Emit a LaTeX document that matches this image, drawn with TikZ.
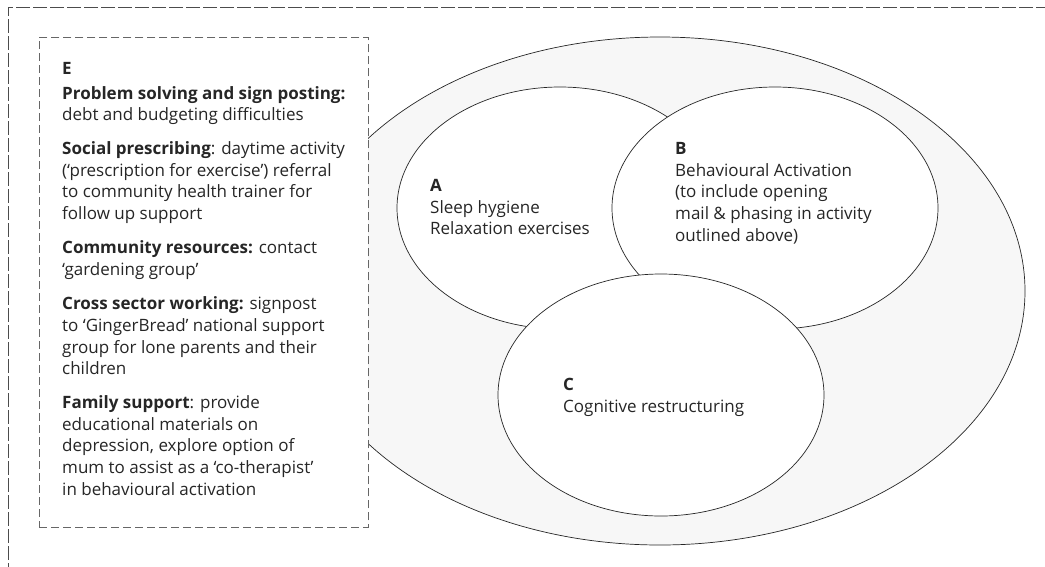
\documentclass[tikz,border=0pt]{standalone}
\usepackage{fontspec}
\setmainfont{Open Sans}
\usetikzlibrary{shapes.geometric}
\begin{document}
\begin{tikzpicture}[x=1pt,y=-1pt,
  frameline/.style={draw=black!70, line width=0.9pt, dash pattern=on 14pt off 3pt},
  boxline/.style={draw=black!60, line width=0.8pt, dash pattern=on 8pt off 4pt},
  ring/.style={ellipse, draw=black!85, line width=0.7pt, fill=white,
    minimum width=326pt, minimum height=242pt, inner sep=0pt},
  txt/.style={align=left, inner sep=0pt, anchor=north west, text=black!85,
    font=\fontsize{17}{21.7}\selectfont}]
\useasboundingbox (0,0) rectangle (1045,566);

% page frame (only its top and left edges fall inside the picture)
\draw[frameline] (1050,7) -- (8,7) -- (8,570);

% outer ring holding the three techniques
\node[ellipse, draw=black!85, line width=0.7pt, fill=black!3,
  minimum width=730pt, minimum height=508pt, inner sep=0pt] (outer) at (660,291) {};

% overlapping sets A, B, C
\node[ring] (setA) at (560,208) {};
\node[ring] (setB) at (775,208) {};
\node[ring] (setC) at (661,395) {};

\node[txt] (labA) at (430,179) {\textbf{A}\\Sleep hygiene\\Relaxation exercises};
\node[txt] (labB) at (675,142) {\textbf{B}\\Behavioural Activation\\(to include opening\\mail \& phasing in activity\\outlined above)};
\node[txt] (labC) at (563,378) {\textbf{C}\\Cognitive restructuring};

% panel E
\node[boxline, fill=white, minimum width=329pt, minimum height=490pt,
  inner sep=0pt, anchor=north west] (boxE) at (39,37) {};
\node[txt] (labE) at (62,62) {\textbf{E}\\[3pt]
\textbf{Problem solving and sign posting:}\\
debt and budgeting difficulties\\[12pt]
\textbf{Social prescribing}: daytime activity\\
(`prescription for exercise') referral\\
to community health trainer for\\
follow up support\\[12.5pt]
\textbf{Community resources:} contact\\
`gardening group'\\[12.5pt]
\textbf{Cross sector working:} signpost\\
to `GingerBread' national support\\
group for lone parents and their\\
children\\[12pt]
\textbf{Family support}: provide\\
educational materials on\\
depression, explore option of\\
mum to assist as a `co-therapist'\\
in behavioural activation};
\end{tikzpicture}
\end{document}
